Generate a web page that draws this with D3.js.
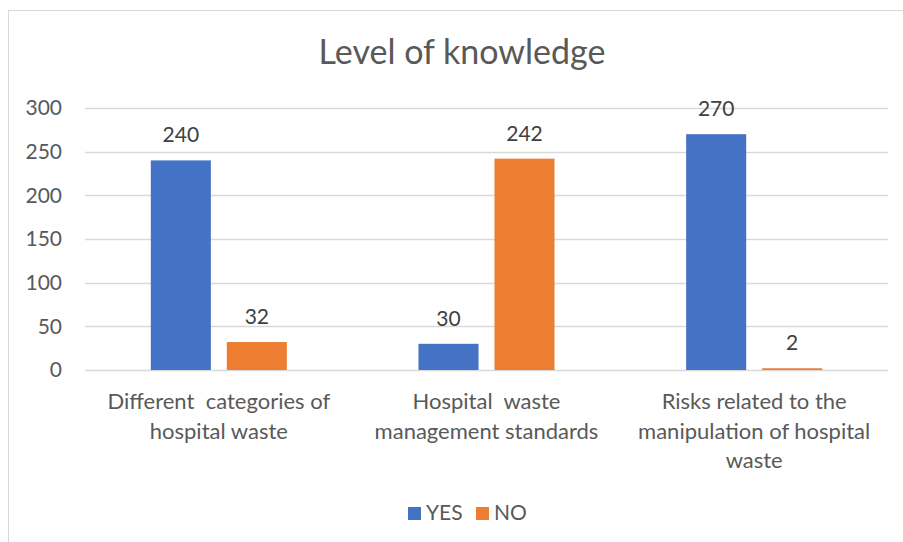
<!DOCTYPE html>
<html>
<head>
<meta charset="utf-8">
<script src="https://cdn.jsdelivr.net/npm/d3@7"></script>
<style>
  body { margin: 0; background: #fff; }
  svg text { font-family: Lato, "Open Sans", sans-serif; white-space: pre; }
</style>
</head>
<body>
<div id="chart"></div>
<script>
// level of knowledge, clustered bars (YES / NO)
const categories = [
  "Different  categories of\nhospital waste",
  "Hospital  waste\nmanagement standards",
  "Risks related to the\nmanipulation of hospital\nwaste"
];
const seriesNames = ["YES", "NO"];
const yesValues = [240, 30, 270];
const noValues = [32, 242, 2];
const yTicks = [0, 50, 100, 150, 200, 250, 300];

const colors = { YES: "#4472C4", NO: "#ED7D31" };
const width = 903, height = 542;

const svg = d3.select("#chart").append("svg")
    .attr("width", width)
    .attr("height", height);

// chart frame (runs off the right / bottom edge)
svg.append("rect")
    .attr("x", 8.5).attr("y", 10.5)
    .attr("width", 1000).attr("height", 1000)
    .attr("fill", "#fff")
    .attr("stroke", "#d9d9d9")
    .attr("stroke-width", 1);

const plot = { left: 85, right: 888, top: 108, bottom: 370 };

let x0 = d3.scaleBand()
    .domain(d3.range(categories.length))
    .range([plot.left, plot.right])
    .paddingInner(0).paddingOuter(0);

let x1 = d3.scaleBand()
    .domain(seriesNames)
    .range([0, x0.bandwidth()])
    .paddingInner(0.21)
    .paddingOuter(0.866);

let y = d3.scaleLinear()
    .domain([0, 300])
    .range([plot.bottom, plot.top]);

// gridlines
svg.append("g")
    .selectAll("line")
    .data(yTicks)
    .join("line")
    .attr("x1", plot.left).attr("x2", plot.right)
    .attr("y1", d => Math.round(y(d)) + 0.5)
    .attr("y2", d => Math.round(y(d)) + 0.5)
    .attr("stroke", "#d9d9d9")
    .attr("stroke-width", 1.5);

// y axis labels
const yAxis = svg.append("g")
    .attr("transform", "translate(" + (plot.left - 23) + ",0)")
    .call(d3.axisLeft(y).tickValues(yTicks).tickSize(0).tickPadding(0));
yAxis.select(".domain").remove();
yAxis.selectAll("text")
    .attr("font-family", "Lato, 'Open Sans', sans-serif")
    .attr("font-size", 21)
    .attr("fill", "#595959");

// bars
const rows = categories.map((c, i) => ({ i: i, YES: yesValues[i], NO: noValues[i] }));

const groups = svg.append("g")
    .selectAll("g")
    .data(rows)
    .join("g")
    .attr("transform", d => "translate(" + x0(d.i) + ",0)");

groups.selectAll("rect")
    .data(d => seriesNames.map(k => ({ key: k, value: d[k] })))
    .join("rect")
    .attr("x", d => x1(d.key))
    .attr("y", d => y(d.value))
    .attr("width", x1.bandwidth())
    .attr("height", d => y(0) - y(d.value))
    .attr("fill", d => colors[d.key]);

groups.selectAll("text.val")
    .data(d => seriesNames.map(k => ({ key: k, value: d[k] })))
    .join("text")
    .attr("class", "val")
    .attr("x", d => x1(d.key) + x1.bandwidth() / 2)
    .attr("y", d => y(d.value) - 18)
    .attr("text-anchor", "middle")
    .attr("font-size", 21)
    .attr("fill", "#404040")
    .text(d => d.value);

// category labels
svg.append("g")
    .selectAll("text")
    .data(categories)
    .join("text")
    .attr("text-anchor", "middle")
    .attr("font-size", 22)
    .attr("fill", "#595959")
    .each(function (d, i) {
        const t = d3.select(this);
        d.split("\n").forEach((line, j) => {
            t.append("tspan")
                .attr("x", x0(i) + x0.bandwidth() / 2)
                .attr("y", 409 + j * 29.5)
                .text(line);
        });
    });

// title
svg.append("text")
    .attr("x", 462)
    .attr("y", 64)
    .attr("text-anchor", "middle")
    .attr("font-size", 34)
    .attr("fill", "#595959")
    .text("Level of knowledge");

// legend
const legend = svg.append("g")
    .attr("transform", "translate(408,507)");
const legendX = [0, 68];
seriesNames.forEach((k, i) => {
    legend.append("rect")
        .attr("x", legendX[i]).attr("y", 0)
        .attr("width", 13).attr("height", 13)
        .attr("fill", colors[k]);
    legend.append("text")
        .attr("x", legendX[i] + 18).attr("y", 13)
        .attr("font-size", 21)
        .attr("fill", "#595959")
        .text(k);
});
</script>
</body>
</html>
